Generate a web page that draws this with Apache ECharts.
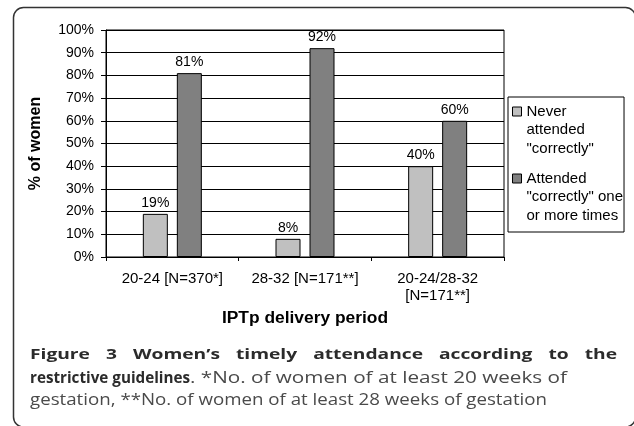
<!DOCTYPE html>
<html>
<head>
<meta charset="utf-8">
<script src="https://cdn.jsdelivr.net/npm/echarts@6/dist/echarts.min.js"></script>
<style>
html,body{margin:0;padding:0;background:#fff;}
#c{width:634px;height:426px;}
</style>
</head>
<body>
<div id="c"></div>
<script>
// ---- data ----
var categories = ['20-24 [N=370*]', '28-32 [N=171**]', '20-24/28-32\n[N=171**]'];
var seriesNames = ['Never\nattended\n"correctly"', 'Attended\n"correctly" one\nor more times'];
var neverValues = [19, 8, 40];
var attendedValues = [81, 92, 60];
var yTicks = [0, 10, 20, 30, 40, 50, 60, 70, 80, 90, 100];
var yAxisTitle = '% of women';
var xAxisTitle = 'IPTp delivery period';
var captionLine1 = ['Figure', '3', 'Women\u2019s', 'timely', 'attendance', 'according', 'to', 'the'];
var captionLine2Bold = 'restrictive guidelines';
var captionLine2Rest = '. *No. of women of at least 20 weeks of';
var captionLine3 = 'gestation, **No. of women of at least 28 weeks of gestation';

var chart = echarts.init(document.getElementById('c'), null, {renderer: 'canvas'});

var FONT = 'Liberation Sans, Arial, sans-serif';
var CAP_FONT = '"Open Sans", "Noto Sans", sans-serif';
var capSize = 15;
var normSize = 16;
var boldFont = 'bold ' + capSize + 'px ' + CAP_FONT;
var bold2Font = 'bold 16px ' + CAP_FONT;
var normFont = normSize + 'px ' + CAP_FONT;
var boldColor = '#2b2b2b', normColor = '#4a4a4a';

var cv = document.createElement('canvas').getContext('2d');
function measure(font, t) { cv.font = font; return cv.measureText(t).width; }

var graphics = [];
// justified, tracked first caption line
var wordScale = 1.28;
var widths = captionLine1.map(function (w) { return measure(boldFont, w) * wordScale; });
var sum = widths.reduce(function (a, b) { return a + b; }, 0);
var lineLeft = 30, lineRight = 617;
var gap = (lineRight - lineLeft - sum) / (captionLine1.length - 1);
var xx = lineLeft;
captionLine1.forEach(function (w, i) {
  graphics.push({
    type: 'text', x: xx, y: 355, scaleX: wordScale,
    style: {text: w, font: boldFont, fill: boldColor, verticalAlign: 'middle', align: 'left'}
  });
  xx += widths[i] + gap;
});
// second line: bold part + tracked normal part
var boldEnd = 190;
var boldW = measure(bold2Font, captionLine2Bold);
graphics.push({
  type: 'text', x: lineLeft, y: 378, scaleX: (boldEnd - lineLeft) / boldW,
  style: {text: captionLine2Bold, font: bold2Font, fill: boldColor, verticalAlign: 'middle', align: 'left'}
});
var restW = measure(normFont, captionLine2Rest);
graphics.push({
  type: 'text', x: boldEnd, y: 378, scaleX: (567 - boldEnd) / restW,
  style: {text: captionLine2Rest, font: normFont, fill: normColor, verticalAlign: 'middle', align: 'left'}
});
var l3W = measure(normFont, captionLine3);
graphics.push({
  type: 'text', x: lineLeft, y: 400, scaleX: (547 - lineLeft) / l3W,
  style: {text: captionLine3, font: normFont, fill: normColor, verticalAlign: 'middle', align: 'left'}
});
// outer frame
graphics.push({
  type: 'rect', shape: {x: 13.5, y: 7.5, width: 622, height: 419.5, r: 10},
  style: {fill: 'none', stroke: '#333', lineWidth: 1.5}, z: -1
});

// tall legend icon: square aligned with first text line
var legendIcon = 'path://M0 0 M9 55.5 M0 4.75 L9 4.75 L9 13.75 L0 13.75 Z';

var option = {
  animation: false,
  backgroundColor: '#fff',
  grid: {left: 106, top: 30, width: 398, height: 227, show: true, borderColor: '#000', borderWidth: 1, containLabel: false},
  legend: {
    orient: 'vertical',
    left: 508, top: 97,
    padding: [4.75, 1, 6.75, 4],
    borderColor: '#000', borderWidth: 1,
    itemWidth: 9, itemHeight: 55.5, itemGap: 10.5,
    icon: legendIcon,
    itemStyle: {borderColor: '#000', borderWidth: 1},
    textStyle: {fontFamily: FONT, fontSize: 15, lineHeight: 18.5, color: '#000'},
    data: seriesNames
  },
  xAxis: {
    type: 'category',
    data: categories,
    name: xAxisTitle,
    nameLocation: 'middle',
    nameGap: 53,
    nameTextStyle: {fontFamily: FONT, fontSize: 17.4, fontWeight: 'bold', color: '#000'},
    axisLine: {lineStyle: {color: '#000', width: 1}},
    axisTick: {show: true, length: 4, lineStyle: {color: '#000'}},
    axisLabel: {interval: 0, fontFamily: FONT, fontSize: 15, color: '#000', margin: 13, lineHeight: 17}
  },
  yAxis: {
    type: 'value',
    min: 0, max: 100, interval: 10,
    name: yAxisTitle,
    nameLocation: 'middle',
    nameGap: 62,
    nameRotate: 90,
    nameTextStyle: {fontFamily: FONT, fontSize: 16, fontWeight: 'bold', color: '#000'},
    axisLine: {show: true, lineStyle: {color: '#000', width: 1}},
    axisTick: {show: true, length: 5, lineStyle: {color: '#000'}},
    axisLabel: {fontFamily: FONT, fontSize: 14, color: '#000', margin: 12, formatter: '{value}%'},
    splitLine: {show: true, lineStyle: {color: '#000', width: 1}}
  },
  series: [
    {
      name: seriesNames[0], type: 'bar', data: neverValues,
      barWidth: 25, barGap: '36%',
      itemStyle: {color: '#c0c0c0', borderColor: '#000', borderWidth: 1},
      label: {show: true, position: 'top', distance: 4, formatter: '{c}%', fontFamily: FONT, fontSize: 14, color: '#000'}
    },
    {
      name: seriesNames[1], type: 'bar', data: attendedValues,
      barWidth: 25, barGap: '36%',
      itemStyle: {color: '#808080', borderColor: '#000', borderWidth: 1},
      label: {show: true, position: 'top', distance: 4, formatter: '{c}%', fontFamily: FONT, fontSize: 14, color: '#000'}
    }
  ],
  graphic: graphics
};
chart.setOption(option);
</script>
</body>
</html>
